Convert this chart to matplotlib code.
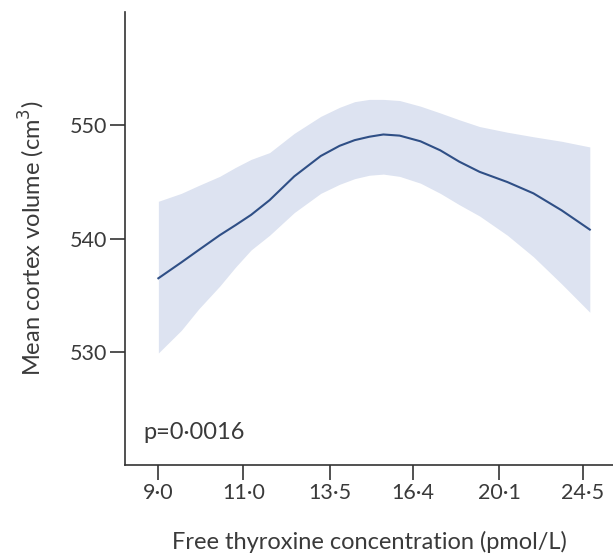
import numpy as np
import matplotlib
matplotlib.use("Agg")
import matplotlib.pyplot as plt
from matplotlib.ticker import FixedLocator, NullLocator

# free thyroxine (pmol/L) and mean cortex volume (cm3) with 95% CI
ft4 = [9.0, 9.5, 9.9, 10.4, 10.8, 11.2, 11.7, 12.4, 13.2, 13.8, 14.3, 14.8, 15.3, 15.9,
       16.7, 17.5, 18.3, 19.2, 20.5, 21.8, 23.3, 24.9]
mean_vol = [536.5, 537.9, 539.0, 540.3, 541.2, 542.1, 543.4, 545.5, 547.3, 548.2, 548.7, 549.0,
            549.2, 549.1, 548.6, 547.8, 546.8, 545.9, 545.0, 544.0, 542.5, 540.8]
upper_ci = [543.3, 544.0, 544.7, 545.5, 546.3, 547.0, 547.6, 549.3, 550.8, 551.6, 552.1, 552.3,
            552.3, 552.2, 551.7, 551.1, 550.5, 549.9, 549.4, 549.0, 548.6, 548.1]
lower_ci = [529.9, 531.9, 533.8, 535.8, 537.5, 539.0, 540.3, 542.3, 544.0, 544.8, 545.3, 545.6,
            545.7, 545.5, 544.9, 544.0, 543.0, 542.0, 540.3, 538.4, 536.0, 533.5]

xticks = [9.0, 11.0, 13.5, 16.4, 20.1, 24.5]
yticks = [530, 540, 550]

plt.rcParams["font.family"] = ["Lato", "DejaVu Sans"]

fig = plt.figure(figsize=(6.13, 5.55), dpi=100)
ax = fig.add_axes([0.204, 0.162, 0.796, 0.816])

ax.fill_between(ft4, lower_ci, upper_ci, color="#dde3f1", linewidth=0)
ax.plot(ft4, mean_vol, color="#2f4f86", linewidth=1.5)

ax.set_xscale("log")
ax.set_xlim(8.32, 26.3)
ax.set_ylim(520, 560)

ax.xaxis.set_major_locator(FixedLocator(xticks))
ax.xaxis.set_minor_locator(NullLocator())
ax.set_xticklabels([f"{t:.1f}".replace(".", "\u00b7") for t in xticks])
ax.set_yticks(yticks)
ax.set_yticklabels([str(t) for t in yticks])

for side in ["top", "right"]:
    ax.spines[side].set_visible(False)
for side in ["left", "bottom"]:
    ax.spines[side].set_color("#333333")
    ax.spines[side].set_linewidth(1.2)

ax.tick_params(axis="both", direction="out", length=11, width=1.2, color="#333333",
               labelsize=15.5, labelcolor="#3a3a3a", pad=2)

ax.set_xlabel("Free thyroxine concentration (pmol/L)", fontsize=17, color="#3a3a3a", labelpad=20)
ax.set_ylabel("Mean cortex volume (cm$^3$)", fontsize=17, color="#3a3a3a", labelpad=16)

ax.text(0.037, 0.058, "p=0\u00b70016", transform=ax.transAxes, fontsize=17, color="#3a3a3a")

fig.savefig("out.png", dpi=100)
